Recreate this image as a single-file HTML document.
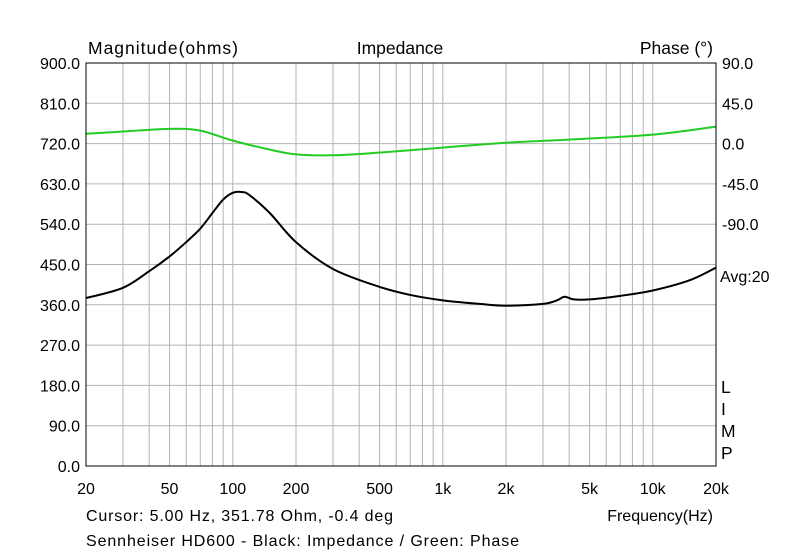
<!DOCTYPE html>
<html><head><meta charset="utf-8"><style>
body{margin:0;background:#fff;font-family:"Liberation Sans",sans-serif}
svg text{font-family:"Liberation Sans",sans-serif;font-size:16px;fill:#000}
svg text.big{font-size:17.5px}
</style></head><body>
<svg width="800" height="555" viewBox="0 0 800 555">
<g id="grid"></g>
<g id="series"></g>
<rect x="86" y="63" width="630" height="403" fill="none" stroke="#000" stroke-width="1"/>
<g id="labels"></g>
<text class="big" x="88" y="54" textLength="150">Magnitude(ohms)</text>
<text class="big" x="400" y="54" text-anchor="middle">Impedance</text>
<text class="big" x="713" y="54" text-anchor="end">Phase (°)</text>
<text x="720" y="282">Avg:20</text>
<text class="big" x="721" y="393">L</text>
<text class="big" x="721" y="415">I</text>
<text class="big" x="721" y="437">M</text>
<text class="big" x="721" y="459">P</text>
<text x="86" y="521" textLength="307">Cursor: 5.00 Hz, 351.78 Ohm, -0.4 deg</text>
<text x="713" y="521" text-anchor="end">Frequency(Hz)</text>
<text x="86" y="546" textLength="433">Sennheiser HD600 - Black: Impedance / Green: Phase</text>
</svg>
<script>
const freqs=[20,30,40,50,60,70,80,90,100,110,120,150,200,300,500,700,1000,1500,2000,3000,3500,3800,4200,5000,7000,10000,15000,20000];
const impedance=[375,398,435,468,500,530,565,595,610,612,605,565,500,440,400,382,370,362,358,362,370,378,372,372,380,392,415,443];
const phaseFreqs=[20,30,50,70,100,150,200,300,500,1000,2000,4000,10000,20000];
const phase=[11,13.5,16.5,14.5,3.3,-6.7,-12,-13,-10,-4.5,1,4.5,10,19];
const magTicks=["0.0","90.0","180.0","270.0","360.0","450.0","540.0","630.0","720.0","810.0","900.0"];
const phaseTicks=["90.0","45.0","0.0","-45.0","-90.0"];
const xTicks=[[20,"20"],[50,"50"],[100,"100"],[200,"200"],[500,"500"],[1000,"1k"],[2000,"2k"],[5000,"5k"],[10000,"10k"],[20000,"20k"]];
const X0=86,X1=716,Y0=466,Y1=63;
const xs=f=>X0+(Math.log10(f)-Math.log10(20))/3*(X1-X0);
const ym=v=>Y0-v/900*(Y0-Y1);
const yp=p=>Y1+(90-p)/450*(Y0-Y1);
const NS="http://www.w3.org/2000/svg";
function mk(t,a,parent){const e=document.createElementNS(NS,t);for(const k in a)e.setAttribute(k,a[k]);document.getElementById(parent).appendChild(e);return e;}
for(let d=10;d<=10000;d*=10)for(let m=1;m<10;m++){const f=d*m;if(f<20||f>20000)continue;
 const l=mk('line',{x1:xs(f),x2:xs(f),y1:Y1,y2:Y0,stroke:'#b4b4b4','stroke-width':1},'grid');
 
 }
magTicks.forEach((t,i)=>{const y=ym(i*90);
 const l=mk('line',{x1:X0,x2:X1,y1:y,y2:y,stroke:'#b4b4b4','stroke-width':1},'grid');
 
 
 const tx=mk('text',{x:80,y:y+6,'text-anchor':'end'},'labels');tx.textContent=t;
 
 });
phaseTicks.forEach(t=>{const y=yp(parseFloat(t));
 const tx=mk('text',{x:722,y:y+6},'labels');tx.textContent=t;
 
 });
xTicks.forEach(([f,t])=>{const tx=mk('text',{x:xs(f),y:494,'text-anchor':'middle'},'labels');tx.textContent=t;
 
 });
function smooth(pts){let d=`M${pts[0][0]},${pts[0][1]}`;for(let i=0;i<pts.length-1;i++){const p0=pts[i-1]||pts[i],p1=pts[i],p2=pts[i+1],p3=pts[i+2]||p2;
 d+=` C${p1[0]+(p2[0]-p0[0])/6},${p1[1]+(p2[1]-p0[1])/6} ${p2[0]-(p3[0]-p1[0])/6},${p2[1]-(p3[1]-p1[1])/6} ${p2[0]},${p2[1]}`;}return d;}
const ph=mk('path',{d:smooth(phaseFreqs.map((f,i)=>[xs(f),yp(phase[i])])),fill:'none',stroke:'#22cc22','stroke-width':2},'series');


const im=mk('path',{d:smooth(freqs.map((f,i)=>[xs(f),ym(impedance[i])])),fill:'none',stroke:'#000','stroke-width':2},'series');


</script>
</body></html>
